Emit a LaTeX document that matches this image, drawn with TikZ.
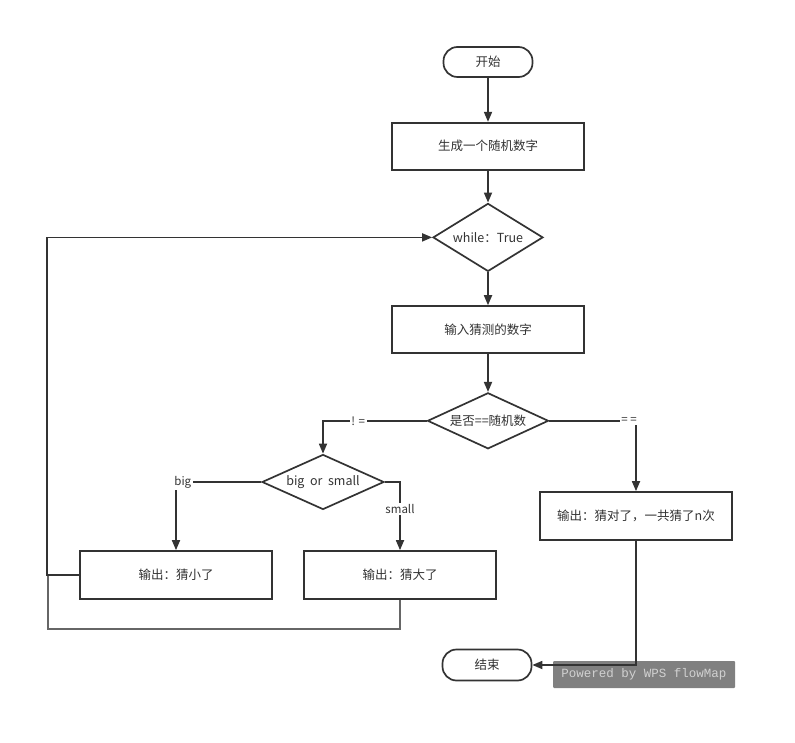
\documentclass[tikz,border=0pt]{standalone}
\usepackage{fontspec}
\setmainfont{Noto Sans CJK SC}
\newfontfamily\wmfont{Liberation Mono}
\usetikzlibrary{positioning,shapes.geometric,arrows.meta}
\definecolor{ln}{HTML}{333333}
\newcommand{\tx}{\fontsize{12.5}{15}\selectfont}

\begin{document}
\begin{tikzpicture}[x=1pt,y=-1pt,line width=1.7pt,color=ln,>={Triangle[length=10pt,width=8pt]}]
	\tikzstyle{term}=[rectangle,draw,rounded corners=14pt,minimum width=89pt,minimum height=30pt,font=\tx]
	\tikzstyle{proc}=[rectangle,draw,minimum width=192pt,minimum height=47pt,font=\tx]
	\tikzstyle{decide}=[diamond,draw,aspect=2.2,inner sep=0pt,font=\tx]
	\tikzstyle{lab}=[fill=white,inner sep=1.5pt,font=\fontsize{11.5}{13}\selectfont]
	\fill[white] (0,0) rectangle (795,743);
	\useasboundingbox (0,0) rectangle (795,743);
		\node[term] (start) at (488,62) {开始};
		\node[proc, below=44pt of start] (rand) {生成一个随机数字};
		\node[decide, below=32pt of rand, minimum width=110pt, minimum height=68pt] (loop) {while：True};
		\node[proc, below=33pt of loop] (guess) {输入猜测的数字};
		\node[decide, below=38pt of guess, minimum width=121pt, minimum height=56pt] (eq) {是否==随机数};
			\draw[->] (start) -- (rand);
			\draw[->] (rand) -- (loop);
			\draw[->] (loop) -- (guess);
			\draw[->] (guess) -- (eq);
		\node[decide, minimum width=122pt, minimum height=55pt] (bs) at (323,482) {big~ or~ small};
		\node[proc, minimum height=48pt] (lo) at (176,575) {输出：猜小了};
		\node[proc, minimum height=48pt] (hi) at (400,575) {输出：猜大了};
		\node[proc, minimum height=48pt] (ok) at (636,516) {输出：猜对了，一共猜了n次};
		\node[term, minimum height=31pt] (stop) at (487,665) {结束};
		\node[fill=black!50, rounded corners=1pt, minimum width=182pt, minimum height=27pt, text=black!18, font=\wmfont\fontsize{12.5}{14}\selectfont] (mark) at (644,674.5) {Powered by WPS flowMap};
		\coordinate (back) at (48,629);
			\draw[->] (eq.west) -| node[lab, pos=0.33] {! =} (bs.north);
			\draw[->] (eq.east) -| node[lab, pos=0.46] {= =} (ok.north);
			\draw[->] (bs.west) -| node[lab, pos=0.46] {big} (lo.north);
			\draw[->] (bs.east) -| node[lab, pos=0.7] {small} (hi.north);
			\draw[->] (ok.south) |- (stop.east);
			\draw[line width=1.1pt, color=black!60] (hi.south) |- (back) |- (lo.west);
			\draw[->] (lo.west) -- ++(-32,0) |- (loop.west);
\end{tikzpicture}
\end{document}
